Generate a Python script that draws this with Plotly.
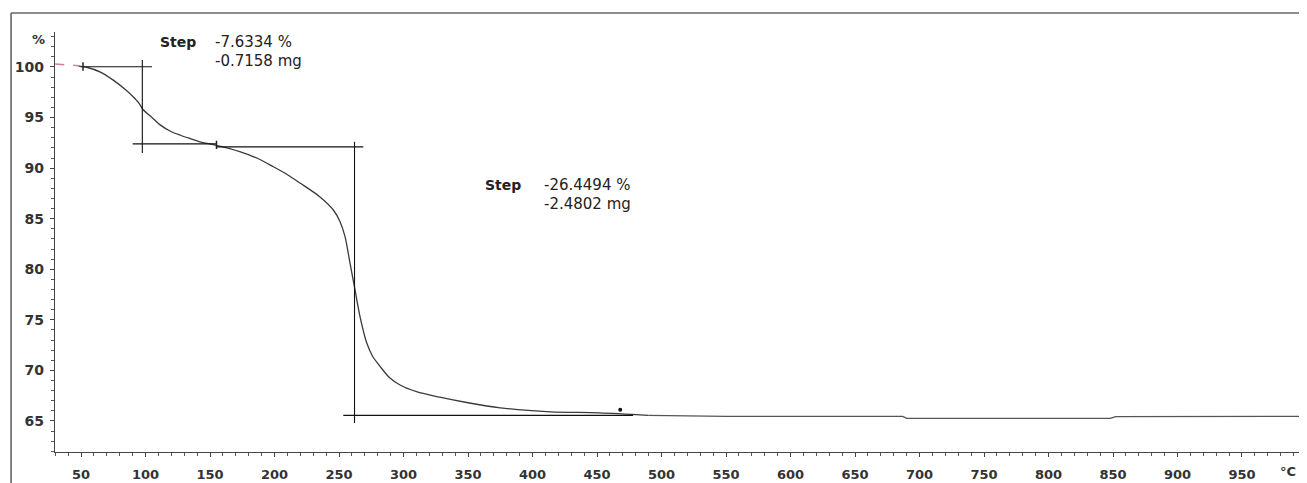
import plotly.graph_objects as go

# TGA curve: temperature (°C) vs mass (%) -- main decomposition region
temp = [48, 50, 55, 65, 75, 85, 90, 95, 98, 105, 111, 120, 127, 135, 142, 155, 173, 187,
        199, 210, 220, 235, 245.6, 250.8, 254.7, 258.5, 262.4, 266.3, 271.5, 276, 281.8,
        289, 297.3, 310, 328, 350, 375, 414, 452, 490]
mass = [100.12, 100.05, 99.95, 99.5, 98.7, 97.7, 97.1, 96.4, 95.8, 95.0, 94.3, 93.6, 93.25,
        92.9, 92.6, 92.25, 91.63, 90.95, 90.14, 89.35, 88.5, 87.18, 85.86, 84.7, 83.2, 80.6,
        77.95, 75.3, 72.7, 71.4, 70.4, 69.3, 68.56, 67.9, 67.35, 66.8, 66.3, 65.9, 65.8, 65.55]

# residue plateau
tail_temp = [490, 550, 687, 690, 848, 852, 1000]
tail_mass = [65.55, 65.45, 65.45, 65.25, 65.25, 65.42, 65.45]

# start segment (pink)
start_temp = [30, 48]
start_mass = [100.3, 100.12]

# step evaluation tangent lines
step1_top_t = [51.5, 105];  step1_top_m = [100.03, 100.03]
step1_vert_t = [97.5, 97.5]; step1_vert_m = [100.7, 91.5]
step1_bot_t = [90, 155];    step1_bot_m = [92.4, 92.4]
step2_top_t = [155, 268.8]; step2_top_m = [92.1, 92.1]
step2_vert_t = [262, 262];  step2_vert_m = [92.6, 64.8]
step2_bot_t = [253.3, 478]; step2_bot_m = [65.55, 65.55]

# markers
limit_t = [51.5, 155]; limit_m = [100.05, 92.3]
dot_t = [468]; dot_m = [66.1]

# labels
step1_label = ("Step", "-7.6334 %", "-0.7158 mg")
step2_label = ("Step", "-26.4494 %", "-2.4802 mg")

x_ticks = list(range(50, 1000, 50))
y_ticks = list(range(65, 101, 5))

fig = go.Figure()
fig.add_trace(go.Scatter(x=start_temp, y=start_mass, mode="lines",
                         line=dict(color="#d08090", width=1.5, dash="dash"), showlegend=False))
fig.add_trace(go.Scatter(x=temp, y=mass, mode="lines",
                         line=dict(color="#3a3a3a", width=1.3, shape="spline", smoothing=0.8),
                         showlegend=False))
fig.add_trace(go.Scatter(x=tail_temp, y=tail_mass, mode="lines",
                         line=dict(color="#555555", width=1.3), showlegend=False))

for tx, my in [(step1_top_t, step1_top_m), (step1_vert_t, step1_vert_m),
               (step1_bot_t, step1_bot_m), (step2_top_t, step2_top_m),
               (step2_vert_t, step2_vert_m), (step2_bot_t, step2_bot_m)]:
    fig.add_trace(go.Scatter(x=tx, y=my, mode="lines",
                             line=dict(color="#111111", width=1.1), showlegend=False))

fig.add_trace(go.Scatter(x=limit_t, y=limit_m, mode="markers",
                         marker=dict(symbol="line-ns", size=6, line=dict(color="#222", width=1.5)),
                         showlegend=False))
fig.add_trace(go.Scatter(x=dot_t, y=dot_m, mode="markers",
                         marker=dict(symbol="circle", size=4, color="#111"), showlegend=False))

font_family = "DejaVu Sans"
anns = []
def add_step(lbl, tx_step, tx_val, y1, y2):
    anns.append(dict(x=tx_step, y=y1, xref="x", yref="y", text="<b>" + lbl[0] + "</b>",
                     showarrow=False, xanchor="left", yanchor="middle",
                     font=dict(family=font_family, size=14, color="#222")))
    anns.append(dict(x=tx_val, y=y1, xref="x", yref="y", text=lbl[1],
                     showarrow=False, xanchor="left", yanchor="middle",
                     font=dict(family=font_family, size=15, color="#222")))
    anns.append(dict(x=tx_val, y=y2, xref="x", yref="y", text=lbl[2],
                     showarrow=False, xanchor="left", yanchor="middle",
                     font=dict(family=font_family, size=15, color="#222")))

add_step(step1_label, 109.7, 152.3, 102.47, 100.6)
add_step(step2_label, 361.6, 407.4, 88.33, 86.45)

anns.append(dict(x=-0.0132, y=0.981, xref="paper", yref="paper", text="<b>%</b>",
                 showarrow=False, xanchor="center", yanchor="middle",
                 font=dict(family=font_family, size=13, color="#333")))
anns.append(dict(x=0.9848, y=-0.0476, xref="paper", yref="paper", text="<b>°C</b>",
                 showarrow=False, xanchor="center", yanchor="middle",
                 font=dict(family=font_family, size=13, color="#333")))

# page body has an 8px margin, so the figure is sized/offset to compensate
fig.update_layout(
    width=1299, height=475,
    margin=dict(l=47, r=0, t=24, b=31),
    plot_bgcolor="white", paper_bgcolor="white",
    annotations=anns,
    shapes=[
        dict(type="line", xref="paper", yref="paper", x0=-0.0351, x1=1.01, y0=1.0452, y1=1.0452,
             line=dict(color="#666", width=1.6)),
        dict(type="line", xref="paper", yref="paper", x0=-0.0351, x1=-0.0351, y0=1.0452, y1=-0.08,
             line=dict(color="#666", width=1.6)),
    ],
)
fig.update_xaxes(range=[29.8, 1000.4], tickvals=x_ticks, showgrid=False, zeroline=False,
                 showline=True, linecolor="#444", linewidth=1.2,
                 ticks="outside", ticklen=4, tickcolor="#444", ticklabelstandoff=6,
                 minor=dict(dtick=10, tick0=0, ticks="outside", ticklen=3, tickcolor="#555"),
                 tickfont=dict(family=font_family, size=13, color="#333", weight="bold"))
fig.update_yaxes(range=[61.93, 103.46], tickvals=y_ticks, showgrid=False, zeroline=False,
                 showline=True, linecolor="#444", linewidth=1.2,
                 ticks="outside", ticklen=4, tickcolor="#444", ticklabelstandoff=3,
                 minor=dict(dtick=1, tick0=0, ticks="outside", ticklen=3, tickcolor="#555"),
                 tickfont=dict(family=font_family, size=14, color="#333", weight="bold"))

fig.write_html("out.html")
